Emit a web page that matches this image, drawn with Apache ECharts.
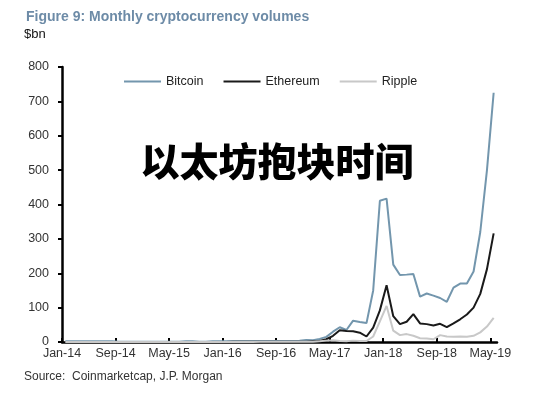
<!DOCTYPE html>
<html>
<head>
<meta charset="utf-8">
<script src="https://cdn.jsdelivr.net/npm/echarts@6/dist/echarts.min.js"></script>
<style>
  html, body { margin: 0; padding: 0; background: #fff; }
  #chart { width: 550px; height: 394px; }
</style>
</head>
<body>
<div id="chart"></div>
<script>
// monthly volumes, $bn, Jan-14 .. May-19 (65 months)
const bitcoin = [
  2, 2, 2, 2, 2, 2, 2, 2, 1, 1, 1, 1,
  1, 1, 1, 1, 1, 1, 2, 2, 1, 1, 2, 2,
  2, 2, 2, 2, 2, 3, 3, 3, 3, 3, 3, 4,
  6, 5, 9, 15, 30, 43, 35, 62, 58, 55, 150, 411,
  417, 225, 195, 196, 198, 132, 141, 135, 128, 117, 158, 170,
  170, 205, 320, 500, 725
]
const ethereum = [
  0, 0, 0, 0, 0, 0, 0, 0, 0, 0, 0, 0,
  0, 0, 0, 0, 0, 0, 0, 0, 0, 0, 0, 0,
  0, 1, 1, 1, 1, 1, 1, 1, 1, 1, 1, 1,
  1, 2, 3, 8, 18, 34, 32, 31, 27, 16, 42, 92,
  165, 75, 52, 59, 81, 54, 52, 48, 53, 43, 54, 66,
  80, 100, 140, 212, 316
]
const ripple = [
  0, 0, 0, 0, 0, 0, 0, 0, 0, 0, 0, 0,
  0, 0, 0, 0, 0, 0, 0, 0, 0, 0, 0, 0,
  0, 0, 0, 0, 0, 1, 1, 1, 1, 1, 1, 1,
  1, 1, 2, 4, 5, 3, 2, 4, 3, 3, 16, 60,
  105, 33, 20, 23, 18, 11, 10, 8, 20, 16, 15, 16,
  15, 18, 28, 45, 70
]
const tickLabels = ['Jan-14', 'Sep-14', 'May-15', 'Jan-16', 'Sep-16', 'May-17', 'Jan-18', 'Sep-18', 'May-19']
const tickMonths = [0, 8, 16, 24, 32, 40, 48, 56, 64]

// points sit mid-month on the date axis
const toPoints = arr => arr.map((v, i) => [i + 0.5, v])

const font = 'Liberation Sans, Arial, sans-serif'
const chart = echarts.init(document.getElementById('chart'))

chart.setOption({
  animation: false,
  backgroundColor: '#fff',
  textStyle: { fontFamily: font },
  title: {
    text: 'Figure 9: Monthly cryptocurrency volumes',
    left: 21,
    top: 5,
    textStyle: { fontSize: 14, fontWeight: 'bold', color: '#6d8ba7', fontFamily: font }
  },
  legend: {
    left: 119,
    top: 70,
    icon: 'rect',
    itemWidth: 37,
    itemHeight: 2,
    itemGap: 20,
    textStyle: { fontSize: 12.5, color: '#222', fontFamily: font },
    data: ['Bitcoin', 'Ethereum', 'Ripple']
  },
  grid: { left: 62, right: 53, top: 67, bottom: 52 },
  xAxis: {
    type: 'value',
    min: 0,
    max: 65,
    interval: 8,
    axisLine: { lineStyle: { color: '#000', width: 2.5 } },
    axisTick: { inside: true, length: 4, customValues: tickMonths, lineStyle: { color: '#000', width: 2 } },
    axisLabel: {
      customValues: tickMonths,
      margin: 5,
      fontSize: 12.5,
      color: '#333',
      formatter: v => tickLabels[tickMonths.indexOf(v)] || ''
    },
    splitLine: { show: false }
  },
  yAxis: {
    type: 'value',
    min: 0,
    max: 800,
    interval: 100,
    axisLine: { show: true, lineStyle: { color: '#000', width: 2.5 } },
    axisTick: { show: true, length: 4, lineStyle: { color: '#000', width: 2 } },
    axisLabel: { fontSize: 12.5, color: '#333', margin: 13 },
    splitLine: { show: false }
  },
  series: [
    {
      name: 'Bitcoin', type: 'line', symbol: 'none',
      data: toPoints(bitcoin),
      lineStyle: { color: '#7396ad', width: 2 },
      itemStyle: { color: '#7396ad' }
    },
    {
      name: 'Ethereum', type: 'line', symbol: 'none',
      data: toPoints(ethereum),
      lineStyle: { color: '#1a1a1a', width: 2 },
      itemStyle: { color: '#1a1a1a' }
    },
    {
      name: 'Ripple', type: 'line', symbol: 'none',
      data: toPoints(ripple),
      lineStyle: { color: '#c8c8c8', width: 2 },
      itemStyle: { color: '#c8c8c8' }
    }
  ],
  graphic: [
    {
      type: 'text', left: 24, top: 28,
      style: { text: '$bn', fontSize: 13, fill: '#111', fontFamily: font }
    },
    {
      type: 'text', left: 24, top: 371,
      style: { text: 'Source:  Coinmarketcap, J.P. Morgan', fontSize: 12, fill: '#333', fontFamily: font }
    },
    {
      type: 'text', x: 277, y: 161, z: 100,
      style: {
        text: '以太坊抱块时间',
        fontSize: 39,
        fontWeight: 900,
        fontFamily: 'Noto Sans CJK SC',
        fill: '#000',
        stroke: '#fff',
        lineWidth: 4,
        align: 'center',
        verticalAlign: 'middle'
      }
    }
  ]
})
</script>
</body>
</html>
